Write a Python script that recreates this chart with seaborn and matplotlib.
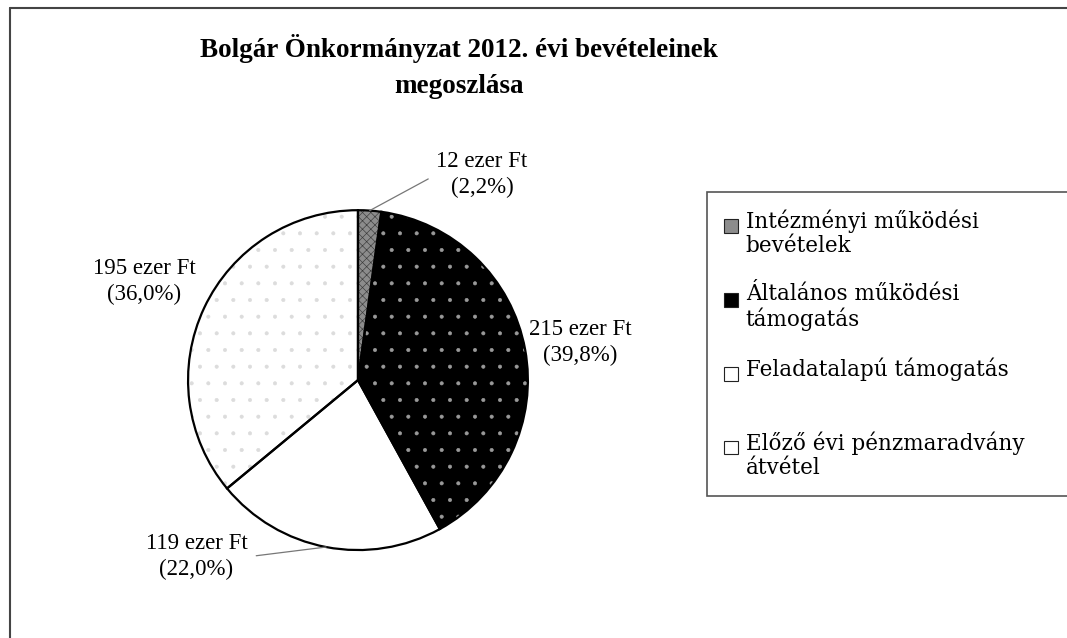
import numpy as np
import matplotlib.pyplot as plt
import seaborn as sns
from matplotlib.patches import Patch, Rectangle
from matplotlib.lines import Line2D
from matplotlib.legend_handler import HandlerPatch

# data
categories = ['Intézményi működési\nbevételek',
              'Általános működési\ntámogatás',
              'Feladatalapú támogatás\n ',
              'Előző évi pénzmaradvány\nátvétel']
amounts = [12, 215, 119, 195]          # ezer Ft
shares = [2.2, 39.8, 22.0, 36.0]       # %
share_labels = ['2,2%', '39,8%', '22,0%', '36,0%']

sns.set_theme(style='white')
plt.rcParams['font.family'] = ['Liberation Serif', 'DejaVu Serif']
plt.rcParams['text.color'] = 'black'
plt.rcParams['hatch.linewidth'] = 0.45

fill_colors = sns.color_palette(['#8c8c8c', '#000000', '#ffffff', '#ffffff'])
hatch_colors = ['#3a3a3a', '#9a9a9a', '#ffffff', '#dcdcdc']
hatches = ['xxxx', '.', None, '.']

fig = plt.figure(figsize=(10.67, 6.38), dpi=100)
ax = fig.add_axes([0.0965, 0.0047, 0.478, 0.799])

# fills + patterns, then outlines on top
wedges, _ = ax.pie(shares, colors=fill_colors, startangle=90, counterclock=False,
                   wedgeprops=dict(linewidth=0))
for w, h, hc in zip(wedges, hatches, hatch_colors):
    if h:
        w.set_hatch(h)
        w.set_edgecolor(hc)
ax.pie(shares, startangle=90, counterclock=False,
       wedgeprops=dict(fill=False, edgecolor='black', linewidth=1.6))
ax.set_xlim(-1.5, 1.5)
ax.set_ylim(-1.5, 1.5)
ax.set_aspect('equal')
ax.axis('off')

# data labels (layout positions in pie radius units)
label_pos = [(0.73, 1.21), (1.31, 0.22), (-0.95, -1.04), (-1.26, 0.58)]
leader = [(0.0, 0.5), None, (1.0, 0.5), None]
for w, amt, pct, pos, rel in zip(wedges, amounts, share_labels, label_pos, leader):
    txt = f'{amt} ezer Ft\n({pct})'
    if rel is None:
        ax.text(pos[0], pos[1], txt, ha='center', va='center', fontsize=16.5,
                linespacing=1.3)
    else:
        th = np.deg2rad((w.theta1 + w.theta2) / 2)
        ax.annotate(txt, xy=(np.cos(th), np.sin(th)), xytext=pos,
                    ha='center', va='center', fontsize=16.5, linespacing=1.3,
                    arrowprops=dict(arrowstyle='-', color='#777777', lw=0.9,
                                    relpos=rel, shrinkA=4, shrinkB=0))

fig.text(0.43, 0.896, 'Bolgár Önkormányzat 2012. évi bevételeinek\nmegoszlása',
         ha='center', va='center', fontsize=19.5, weight='bold', linespacing=1.6)


# legend square sits next to the first text line
def top_square(legend, orig_handle, xdescent, ydescent, width, height, fontsize):
    s = 0.62 * fontsize
    return Rectangle((-xdescent, -ydescent + height - s - 0.1 * fontsize), s, s)


handles = [Patch(facecolor=c, edgecolor='#222222', linewidth=0.8) for c in fill_colors]
leg = fig.legend(handles, categories, loc='upper left',
                 bbox_to_anchor=(0.6626, 0.699, 0.36, 0.0), mode='expand',
                 prop=dict(family='DejaVu Serif', size=15.5), frameon=True,
                 fancybox=False, edgecolor='#555555', framealpha=1,
                 borderpad=0.8, labelspacing=1.2, handlelength=0.65,
                 handleheight=2.2, handletextpad=0.35, borderaxespad=0,
                 handler_map={Patch: HandlerPatch(patch_func=top_square)})
leg.get_frame().set_linewidth(1.2)
for t in leg.get_texts():
    t.set_linespacing(1.15)

# outer chart frame (top and left edges visible)
fig.add_artist(Line2D([0.0094, 1], [0.987, 0.987], transform=fig.transFigure,
                      color='#444444', lw=1.5))
fig.add_artist(Line2D([0.0094, 0.0094], [0, 0.987], transform=fig.transFigure,
                      color='#444444', lw=1.5))

fig.savefig('out.png', dpi=100)
